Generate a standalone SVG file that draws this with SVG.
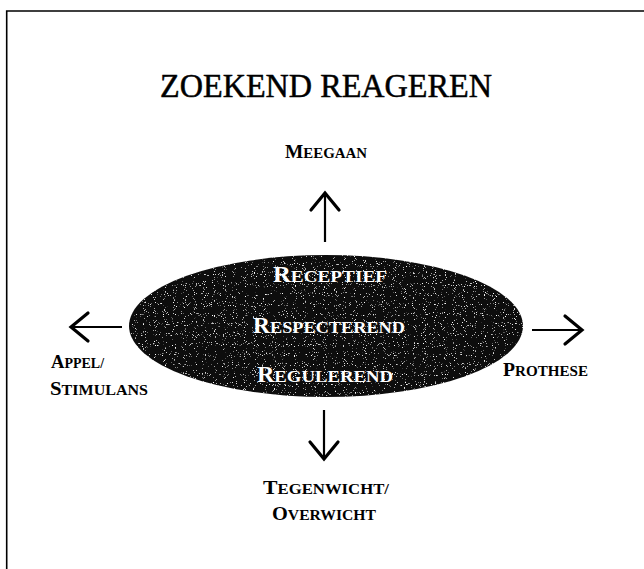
<svg xmlns="http://www.w3.org/2000/svg" width="644" height="569" viewBox="0 0 644 569">
  <style>
    .t { font-family: "Liberation Serif", "DejaVu Serif", serif; fill: #000; font-weight: bold; }
    .h { font-family: "Liberation Serif", "DejaVu Serif", serif; fill: #000; stroke: #000; stroke-width: 0.5; }
    .w { font-family: "Liberation Serif", "DejaVu Serif", serif; fill: #fff; font-weight: bold; }
    .cap { font-size: 19.5px; }
    .conn { stroke: #000; stroke-width: 2.2; fill: none; marker-end: url(#chev); }
  </style>
  <defs>
    <marker id="chev" markerUnits="userSpaceOnUse" viewBox="-20 -17 24 34" refX="0" refY="0" markerWidth="24" markerHeight="34" orient="auto" overflow="visible">
      <path d="M-17,-14 L0,0 L-17,14" fill="none" stroke="#000" stroke-width="3.2" stroke-linejoin="miter" stroke-linecap="round"/>
    </marker>
    <filter id="speckle" x="0" y="0" width="100%" height="100%">
      <feTurbulence type="fractalNoise" baseFrequency="0.9" numOctaves="1" seed="7" result="n"/>
      <feColorMatrix in="n" type="matrix" values="0 0 0 0 1  0 0 0 0 1  0 0 0 0 1  9 0 0 0 -5.8" result="dots"/>
      <feComposite in="dots" in2="SourceGraphic" operator="in" result="d2"/>
      <feMerge><feMergeNode in="SourceGraphic"/><feMergeNode in="d2"/></feMerge>
    </filter>
  </defs>

  <rect width="644" height="569" fill="#fff"/>
  <path d="M6.7,569 V11 H644" fill="none" stroke="#000" stroke-width="1.6"/>

  <g id="title">
    <text class="h" x="326" y="97" font-size="33" text-anchor="middle" textLength="332" lengthAdjust="spacingAndGlyphs">ZOEKEND REAGEREN</text>
  </g>

  <g id="center">
    <ellipse cx="326" cy="326" rx="197" ry="71" fill="#111" filter="url(#speckle)"/>
    <text class="w" x="330" y="282" font-size="17.5" text-anchor="middle" textLength="114" lengthAdjust="spacingAndGlyphs"><tspan font-size="22.5">R</tspan>ECEPTIEF</text>
    <text class="w" x="329" y="333" font-size="17.5" text-anchor="middle" textLength="152" lengthAdjust="spacingAndGlyphs"><tspan font-size="22.5">R</tspan>ESPECTEREND</text>
    <text class="w" x="325" y="382" font-size="17.5" text-anchor="middle" textLength="136" lengthAdjust="spacingAndGlyphs"><tspan font-size="22.5">R</tspan>EGULEREND</text>
  </g>

  <g id="connectors">
    <line class="conn" x1="325" y1="242" x2="325" y2="193"/>
    <line class="conn" x1="324" y1="410" x2="324" y2="459"/>
    <line class="conn" x1="122" y1="327" x2="71" y2="327"/>
    <line class="conn" x1="532" y1="330" x2="582" y2="330"/>
  </g>

  <g id="meegaan">
    <text class="t" x="326" y="158" font-size="15" text-anchor="middle" textLength="82" lengthAdjust="spacingAndGlyphs"><tspan class="cap">M</tspan>EEGAAN</text>
  </g>
  <g id="appel">
    <text class="t" x="51" y="368" font-size="14"><tspan font-size="18.5">A</tspan>PPEL/</text>
    <text class="t" x="50" y="395" font-size="15" textLength="98" lengthAdjust="spacingAndGlyphs"><tspan class="cap">S</tspan>TIMULANS</text>
  </g>
  <g id="prothese">
    <text class="t" x="503" y="376" font-size="15" textLength="85" lengthAdjust="spacingAndGlyphs"><tspan class="cap">P</tspan>ROTHESE</text>
  </g>
  <g id="tegenwicht">
    <text class="t" x="326" y="494" font-size="15" text-anchor="middle" textLength="126" lengthAdjust="spacingAndGlyphs"><tspan class="cap">T</tspan>EGENWICHT/</text>
    <text class="t" x="324" y="520" font-size="15" text-anchor="middle" textLength="104" lengthAdjust="spacingAndGlyphs"><tspan class="cap">O</tspan>VERWICHT</text>
  </g>
</svg>
